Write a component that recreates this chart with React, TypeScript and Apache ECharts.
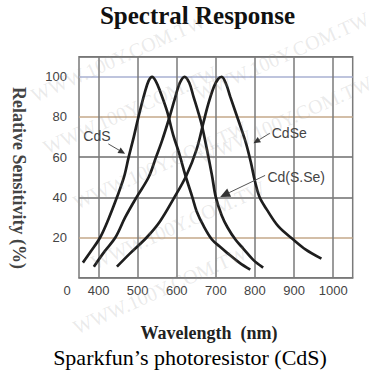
import React, { useEffect, useRef } from "react";
import * as echarts from "echarts";

// [wavelength nm, relative sensitivity %]
const cdsCurve: number[][] = [
  [360, 7.5], [380, 13], [404, 20], [425, 29], [447, 40], [465, 50], [477, 60], [490, 70],
  [502, 80], [518, 92], [528, 98], [537, 100], [546, 98], [557, 93], [575, 83], [591, 71],
  [606, 62], [622, 51], [640, 40], [651, 33], [668, 26], [690, 19], [710, 15.5], [728, 12.5],
  [760, 7.5], [788, 4],
];
const cdsSeCurve: number[][] = [
  [388, 5.5], [415, 13], [443, 20], [468, 30], [497, 40], [528, 50], [547, 60], [562, 68],
  [580, 79], [595, 89], [608, 97], [620, 100], [632, 97], [643, 90], [654, 83], [664, 76],
  [677, 64], [690, 51], [700, 40], [715, 31], [730, 25], [750, 19], [770, 14.5], [795, 9],
  [821, 5],
];
const cdSeCurve: number[][] = [
  [447, 5.5], [480, 12], [523, 20], [557, 28], [591, 39], [625, 51], [651, 64], [668, 77],
  [680, 86], [695, 95], [706, 99], [715, 100], [727, 96], [737, 90], [760, 77], [777, 67],
  [790, 57], [800, 48], [812, 40], [830, 34], [860, 25.5], [898, 19], [930, 14], [970, 9.5],
];
const seriesNames = ["CdS", "Cd(S.Se)", "CdSe"];
const xTickLabels = [400, 500, 600, 700, 800, 900, 1000];
const yTickLabels = [20, 40, 60, 80, 100];

// annotation anchors in data coordinates
const annotations = [
  { text: "CdS", textAt: [361, 70.3], from: [425, 66.6], to: [468, 61.7], head: 7 },
  { text: "CdSe", textAt: [843, 72], from: [838, 71.9], to: [796, 66.9], head: 7 },
  { text: "Cd(S.Se)", textAt: [832, 50.2], from: [826, 50.9], to: [711, 40.2], head: 10 },
];

const watermarkSpots = [
  [118, 58], [282, 56], [130, 110], [285, 120], [160, 165], [178, 225], [160, 290],
];

export default function App() {
  const ref = useRef<HTMLDivElement>(null);
  useEffect(() => {
    if (!ref.current) return;
    const chart = echarts.init(ref.current, null, { renderer: "svg" });
    const yLineColors = [
      "rgba(0,0,0,0)", "rgba(0,0,0,0)", "#c4a88a", "rgba(0,0,0,0)", "#6e6e6e", "rgba(0,0,0,0)",
      "#6e6e6e", "rgba(0,0,0,0)", "#c4a88a", "rgba(0,0,0,0)", "#a9b0d2", "#777",
    ];
    const curves = [cdsCurve, cdsSeCurve, cdSeCurve];
    chart.setOption({
      animation: false,
      grid: {
        left: 79, right: 21.3, top: 56.7, bottom: 108.3,
        show: true, borderColor: "#7a7a7a", borderWidth: 1.5, backgroundColor: "rgba(0,0,0,0)",
      },
      xAxis: {
        type: "value", min: 350, max: 1050, interval: 50,
        axisLine: { show: true, lineStyle: { color: "#7a7a7a", width: 1.5 } },
        axisTick: { show: false },
        axisLabel: {
          margin: 6, color: "#444", fontFamily: "Liberation Sans", fontSize: 13,
          formatter: (v: number) => (xTickLabels.includes(v) ? String(v) : ""),
        },
        splitLine: { show: true, lineStyle: { color: ["rgba(0,0,0,0)", "#7a7a7a"], width: 1.5 } },
      },
      yAxis: {
        type: "value", min: 0, max: 110, interval: 10,
        axisLine: { show: false },
        axisTick: { show: false },
        axisLabel: {
          margin: 12, color: "#444", fontFamily: "Liberation Sans", fontSize: 13,
          formatter: (v: number) => (yTickLabels.includes(v) ? String(v) : ""),
        },
        splitLine: { show: true, lineStyle: { color: yLineColors, width: 1.5 } },
      },
      series: curves.map((d, i) => ({
        name: seriesNames[i],
        type: "line",
        data: d,
        smooth: 0.35,
        symbol: "none",
        lineStyle: { color: "#1e1e1e", width: 2.7 },
        z: 3,
      })),
    });

    const px = (d: number[]) => chart.convertToPixel({ gridIndex: 0 }, d) as number[];
    const ann: any[] = [];
    annotations.forEach((a) => {
      const t = px(a.textAt);
      const f = px(a.from);
      const e = px(a.to);
      const dx = e[0] - f[0];
      const dy = e[1] - f[1];
      const len = Math.sqrt(dx * dx + dy * dy);
      const ux = dx / len, uy = dy / len;
      const h = a.head, w = a.head * 0.45;
      const bx = e[0] - ux * h, by = e[1] - uy * h;
      ann.push({
        type: "text", x: t[0], y: t[1], z: 10,
        style: { text: a.text, fill: "#444", font: "14px 'Liberation Sans'", textAlign: "left", textVerticalAlign: "middle" },
      });
      ann.push({
        type: "line", z: 10,
        shape: { x1: f[0], y1: f[1], x2: bx, y2: by },
        style: { stroke: "#555", lineWidth: 1 },
      });
      ann.push({
        type: "polygon", z: 10,
        shape: { points: [[e[0], e[1]], [bx - uy * w, by + ux * w], [bx + uy * w, by - ux * w]] },
        style: { fill: "#333" },
      });
    });

    const wm = watermarkSpots.map((p) => ({
      type: "text", x: p[0], y: p[1], rotation: 0.42, z: 50,
      style: {
        text: "WWW.100Y.COM.TW", fill: "rgba(150,150,150,0.2)",
        font: "20px 'Liberation Serif'", textAlign: "center", textVerticalAlign: "middle",
      },
    }));

    chart.setOption({
      graphic: [
        {
          type: "text", x: 197.5, y: 15,
          style: { text: "Spectral Response", fill: "#111", font: "bold 25px 'Liberation Serif'", textAlign: "center", textVerticalAlign: "middle" },
        },
        {
          type: "text", x: 19, y: 178, rotation: -Math.PI / 2,
          style: { text: "Relative Sensitivity (%)", fill: "#444", font: "bold 18px 'Liberation Serif'", textAlign: "center", textVerticalAlign: "middle" },
        },
        {
          type: "text", x: 209, y: 333,
          style: { text: "Wavelength\u00a0 (nm)", fill: "#222", font: "bold 18px 'Liberation Serif'", textAlign: "center", textVerticalAlign: "middle" },
        },
        {
          type: "text", x: 190, y: 357,
          style: { text: "Sparkfun\u2019s photoresistor (CdS)", fill: "#000", font: "22px 'Liberation Serif'", textAlign: "center", textVerticalAlign: "middle" },
        },
        {
          type: "text", x: 67, y: 290,
          style: { text: "0", fill: "#444", font: "13px 'Liberation Sans'", textAlign: "center", textVerticalAlign: "middle" },
        },
        ...ann,
        ...wm,
      ],
    });
    return () => chart.dispose();
  }, []);
  return <div ref={ref} style={{ position: "fixed", left: 0, top: 0, width: 374, height: 386, background: "#fff" }} />;
}
